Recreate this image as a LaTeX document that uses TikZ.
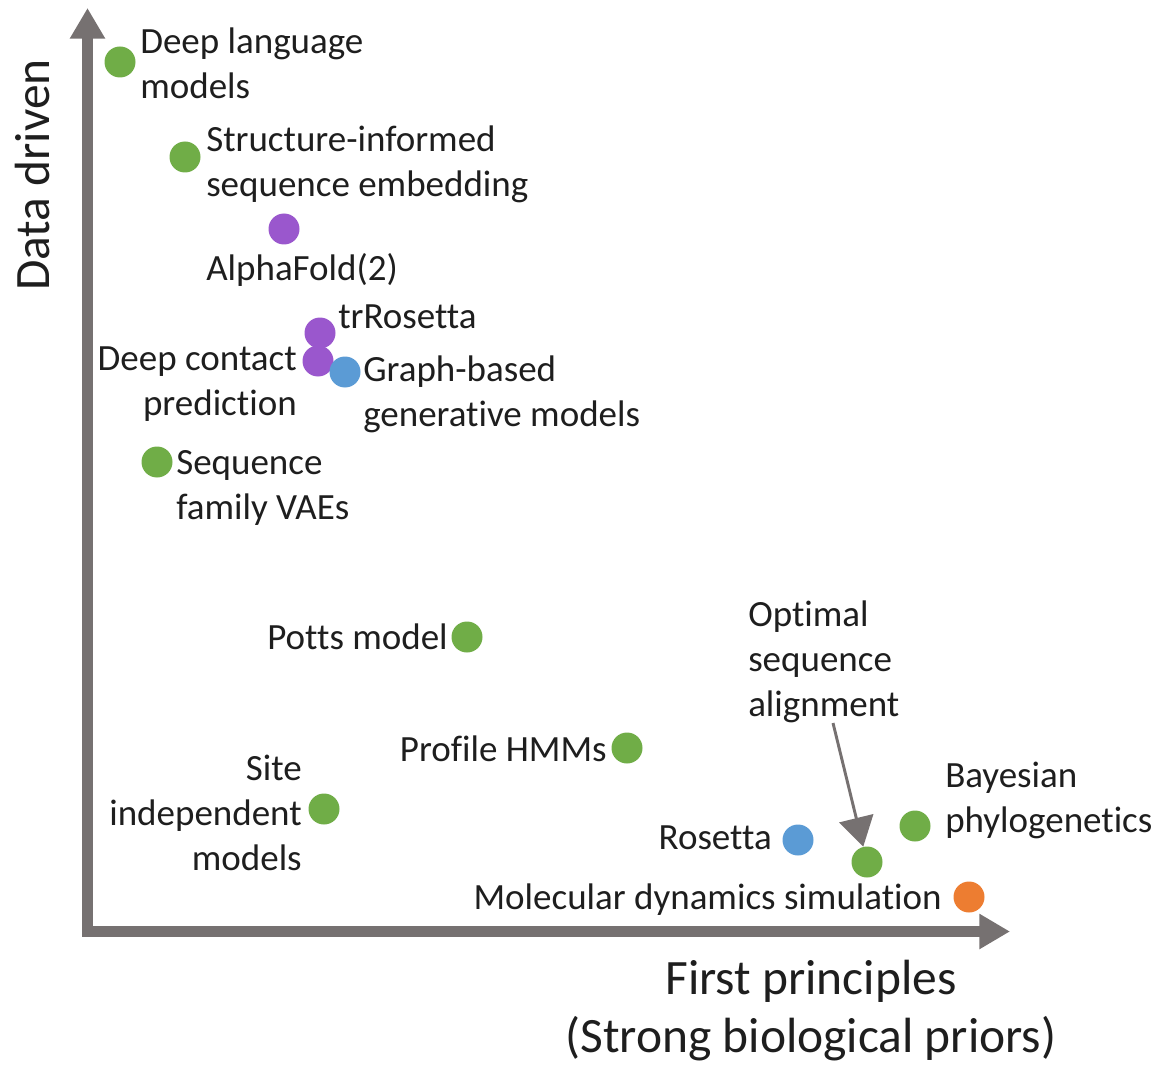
\documentclass[tikz,border=0pt]{standalone}
\usepackage{fontspec}
\setmainfont{Carlito}[Ligatures={NoCommon}]
\usetikzlibrary{arrows.meta}
\definecolor{axisgray}{HTML}{767171}
\definecolor{dgreen}{HTML}{70AD47}
\definecolor{dpurple}{HTML}{9A57CD}
\definecolor{dblue}{HTML}{5B9BD5}
\definecolor{dorange}{HTML}{ED7D31}
\definecolor{txt}{HTML}{1E1E1E}
\begin{document}
\begin{tikzpicture}[x=0.75pt,y=-0.75pt,
  lbl/.style={font=\fontsize{27.75}{33.75}\selectfont, inner sep=0pt, text=txt},
  axlbl/.style={font=\fontsize{37.1}{43.5}\selectfont, inner sep=0pt, text=txt},
  dotnode/.style={circle, inner sep=0pt, minimum size=23.25pt},
  gdot/.style={dotnode, fill=dgreen},
  pdot/.style={dotnode, fill=dpurple},
  bdot/.style={dotnode, fill=dblue},
  odot/.style={dotnode, fill=dorange},
  axisline/.style={draw=axisgray, line width=8.25pt, line join=miter,
    {Triangle[length=23pt,width=25pt]}-{Triangle[length=23pt,width=25pt]}},
  pointer/.style={draw=axisgray, line width=2.2pt, -{Triangle[length=22pt,width=26pt]}}
]
\path[use as bounding box] (0,0) rectangle (1167,1066);

% axes
\coordinate (ytip) at (87.5,8);
\coordinate (origin) at (87.5,931.5);
\coordinate (xtip) at (1010,931.5);
\draw[axisline] (ytip) -- (origin) -- (xtip);

\node[axlbl, rotate=90] (ylab) at (33,175) {Data driven};
\node[axlbl, align=center, anchor=base] (xlab) at (811,1052) {First principles\\(Strong biological priors)};

% dots
\node[gdot] (dlm) at (120,62) {};
\node[gdot] (sise) at (185,157) {};
\node[pdot] (af) at (284,229) {};
\node[pdot] (trr) at (320,333) {};
\node[pdot] (dcp) at (318,361) {};
\node[bdot] (gbg) at (345,372) {};
\node[gdot] (vae) at (157,462) {};
\node[gdot] (potts) at (467,637) {};
\node[gdot] (hmm) at (627,748) {};
\node[gdot] (sim) at (324,809) {};
\node[bdot] (ros) at (798,840) {};
\node[gdot] (osa) at (867,862) {};
\node[gdot] (bay) at (915,826) {};
\node[odot] (md) at (969,897) {};

% labels (base anchor = baseline of the last line)
\node[lbl, align=left, anchor=base west] (dlmL) at (140,99) {Deep language\\models};
\node[lbl, align=left, anchor=base west] (siseL) at (206,197) {Structure-informed\\sequence embedding};
\node[lbl, anchor=base west] (afL) at (206,281) {AlphaFold(2)};
\node[lbl, anchor=base west] (trrL) at (338,329) {trRosetta};
\node[lbl, align=right, anchor=base east] (dcpL) at (297,415) {Deep contact\\prediction};
\node[lbl, align=left, anchor=base west] (gbgL) at (363,426) {Graph-based\\generative models};
\node[lbl, align=left, anchor=base west] (vaeL) at (176,519) {Sequence\\family VAEs};
\node[lbl, anchor=base east] (pottsL) at (448,649) {Potts model};
\node[lbl, anchor=base east] (hmmL) at (607,761) {Profile HMMs};
\node[lbl, align=right, anchor=base east] (simL) at (302,870) {Site\\independent\\models};
\node[lbl, align=left, anchor=base west] (osaL) at (748,716) {Optimal\\sequence\\alignment};
\node[lbl, align=left, anchor=base west] (bayL) at (945,832) {Bayesian\\phylogenetics};
\node[lbl, anchor=base east] (rosL) at (772,849) {Rosetta};
\node[lbl, anchor=base east] (mdL) at (942,909) {Molecular dynamics simulation};

% pointer
\coordinate (osatail) at (833,723);
\draw[pointer] (osatail) -- (osa);
\end{tikzpicture}
\end{document}
